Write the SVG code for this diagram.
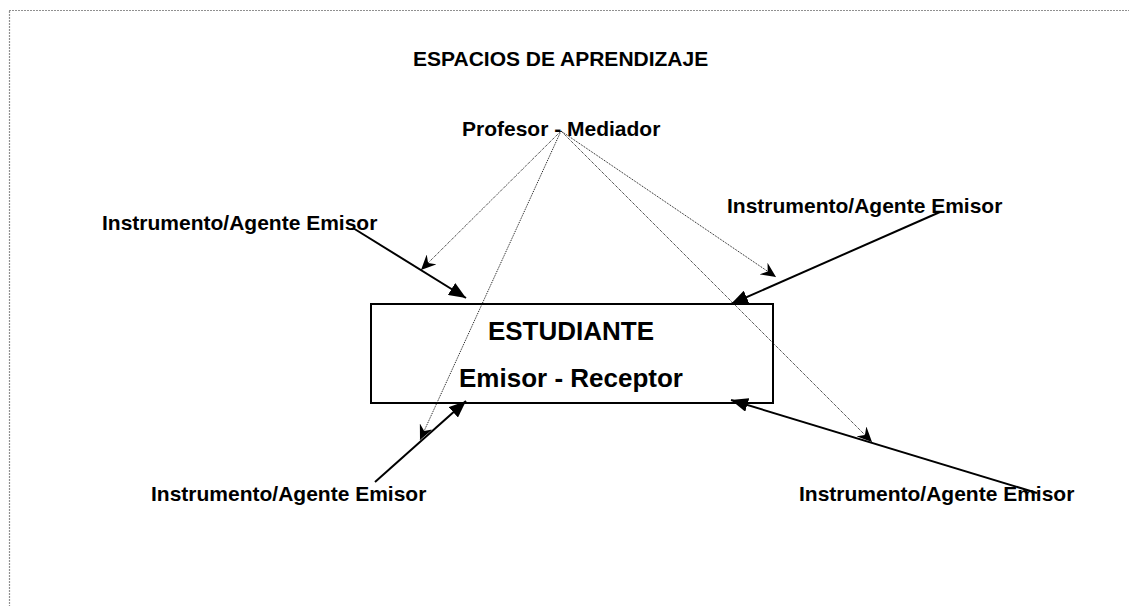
<svg xmlns="http://www.w3.org/2000/svg" width="1129" height="606" viewBox="0 0 1129 606">
<style>
.t{font-family:"Liberation Sans",Arial,sans-serif;font-weight:bold;fill:#000}
.lbl{font-size:21px}
.big{font-size:26px}
.solid{stroke:#000;stroke-width:2;fill:none}
.dot{stroke:#111;stroke-width:1;stroke-dasharray:1 1;fill:none}
</style>
<defs>
<marker id="ah" markerUnits="userSpaceOnUse" markerWidth="18" markerHeight="14" refX="17" refY="7" orient="auto">
<path d="M0,0 L17,7 L0,14 z" fill="#000"/>
</marker>
<marker id="ad" markerUnits="userSpaceOnUse" markerWidth="16" markerHeight="14" refX="15" refY="7" orient="auto">
<path d="M0,0 L15,7 L0,14 L5,7 z" fill="#000"/>
</marker>
</defs>
<rect x="9.5" y="10.5" width="1200" height="700" fill="none" stroke="#222" stroke-width="1.2" stroke-dasharray="1 2"/>
<g id="title"><text class="t lbl" x="413" y="66">ESPACIOS DE APRENDIZAJE</text></g>
<g id="profesor"><text class="t lbl" x="462" y="136">Profesor - Mediador</text></g>
<g id="agente-ul"><text class="t lbl" x="102" y="230">Instrumento/Agente Emisor</text></g>
<g id="agente-ur"><text class="t lbl" x="727" y="213">Instrumento/Agente Emisor</text></g>
<g id="agente-ll"><text class="t lbl" x="151" y="501">Instrumento/Agente Emisor</text></g>
<g id="agente-lr"><text class="t lbl" x="799" y="501">Instrumento/Agente Emisor</text></g>
<g id="estudiante">
<rect x="371" y="304" width="402" height="99" fill="#fff" stroke="#000" stroke-width="2"/>
<text class="t big" x="571" y="340" text-anchor="middle">ESTUDIANTE</text>
<text class="t big" x="571" y="387" text-anchor="middle">Emisor - Receptor</text>
</g>
<g id="connectors">
<line class="solid" x1="353" y1="228" x2="466" y2="298" marker-end="url(#ah)"/>
<line class="solid" x1="940" y1="212" x2="731" y2="304" marker-end="url(#ah)"/>
<line class="solid" x1="375" y1="482" x2="466" y2="401" marker-end="url(#ah)"/>
<line class="solid" x1="1037" y1="493" x2="731" y2="400" marker-end="url(#ah)"/>
<line class="dot" x1="561" y1="131" x2="421" y2="270" marker-end="url(#ad)"/>
<line class="dot" x1="561" y1="131" x2="420" y2="440" marker-end="url(#ad)"/>
<line class="dot" x1="561" y1="131" x2="776" y2="277" marker-end="url(#ad)"/>
<line class="dot" x1="561" y1="131" x2="872" y2="442" marker-end="url(#ad)"/>
</g>
</svg>
